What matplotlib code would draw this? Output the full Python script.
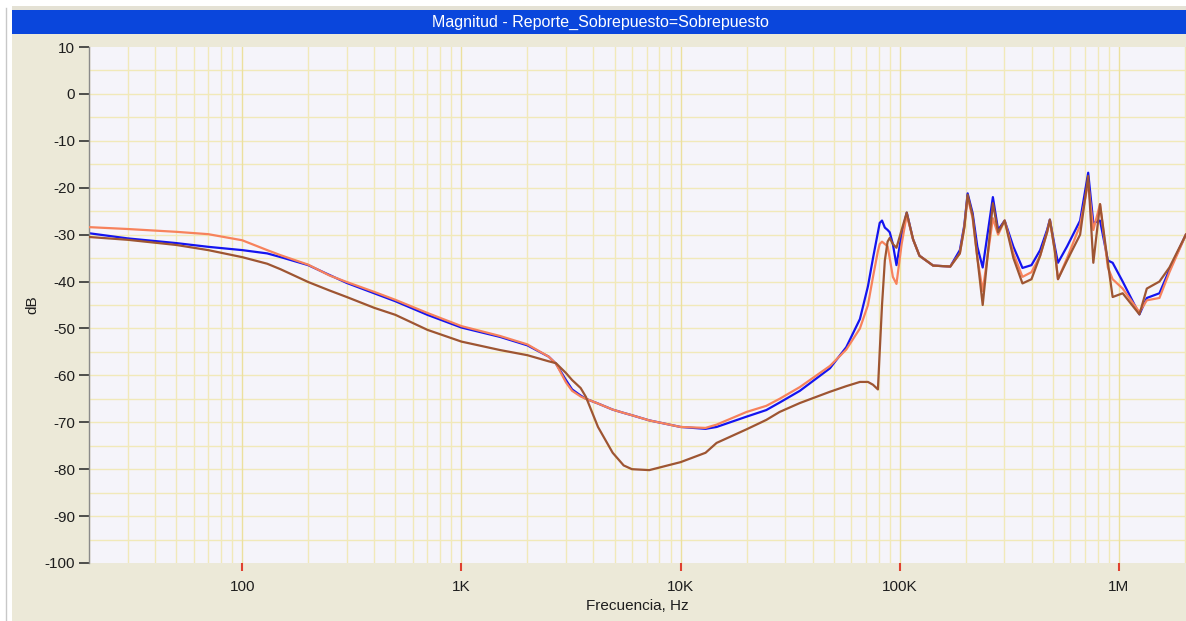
import numpy as np
import matplotlib
matplotlib.use("Agg")
import matplotlib.pyplot as plt
import matplotlib.patches as mpatches
from matplotlib.ticker import FixedLocator, FixedFormatter, NullFormatter

# ── Palette ──────────────────────────────────────────────────────────────────
WIN_BG   = "#ece9d8"
TITLE_BG = "#0a46dc"
PLOT_BG  = "#f5f4fa"
GRID     = "#f1e9b9"
GRID_MAJ = "#ece09e"
TEXT     = "#1e1e1e"
C_BLUE   = "#1414f0"
C_ORANGE = "#f7825c"
C_BROWN  = "#9e5532"

plt.rcParams["font.family"] = ["Liberation Sans", "DejaVu Sans"]
plt.rcParams["axes.unicode_minus"] = False

# ── Data: magnitude response (dB) vs frequency (Hz) ─────────────────────────
freq = [20, 30, 50, 70, 100, 130, 150, 200, 250, 300, 400, 500, 700, 1000,
        1500, 2000, 2500, 2700, 3000, 3200, 3500, 3700, 4200, 4900, 5500,
        6000, 7200, 10000, 13000, 14600, 20000, 24600, 28300, 35000, 48000,
        57000, 65800, 71600, 75500, 79500, 81000, 83000, 85500, 88000, 90000,
        93000, 96600, 102000, 107600, 115000, 123000, 142000, 170000, 188000,
        197000, 204000, 215000, 226000, 239000, 266000, 281000, 301000,
        330000, 363000, 399000, 437000, 470000, 484000, 510000, 527000,
        580000, 665000, 724000, 764000, 820000, 890000, 936000, 1040000,
        1240000, 1340000, 1530000, 1700000, 2020000]

mag_blue = [-29.7, -30.8, -31.8, -32.6, -33.3, -34.0, -34.8, -36.5, -38.6,
            -40.3, -42.5, -44.2, -47.1, -49.8, -51.8, -53.6, -56.0, -57.5,
            -61.0, -63.0, -64.3, -65.0, -66.0, -67.3, -68.0, -68.5, -69.6,
            -71.0, -71.4, -71.0, -68.8, -67.4, -65.8, -63.3, -58.5, -54.0,
            -48.0, -41.0, -35.0, -29.5, -27.5, -27.0, -28.5, -29.0, -29.5,
            -32.0, -36.5, -30.0, -25.3, -31.0, -34.5, -36.6, -36.8, -33.3,
            -28.0, -21.2, -25.4, -32.6, -37.0, -22.0, -29.0, -27.0, -32.6,
            -37.1, -36.5, -33.3, -29.0, -26.8, -32.6, -36.0, -32.5, -27.0,
            -16.8, -27.5, -27.0, -35.5, -36.0, -40.0, -47.0, -43.5, -42.5,
            -37.5, -30.0]

mag_orange = [-28.4, -28.8, -29.4, -29.9, -31.2, -33.3, -34.4, -36.4, -38.7,
              -40.1, -42.2, -43.9, -46.7, -49.5, -51.6, -53.4, -56.0, -57.5,
              -61.5, -63.3, -64.5, -65.0, -66.0, -67.3, -68.0, -68.5, -69.6,
              -71.0, -71.2, -70.5, -67.8, -66.5, -65.0, -62.5, -58.0, -54.5,
              -50.0, -45.0, -39.0, -33.5, -32.0, -31.5, -32.0, -32.5, -35.0,
              -39.0, -40.5, -32.0, -25.8, -31.0, -34.5, -36.6, -36.8, -34.0,
              -28.5, -22.0, -26.5, -35.0, -42.0, -26.5, -30.0, -27.0, -34.0,
              -39.0, -38.0, -34.5, -29.5, -27.0, -33.5, -39.5, -35.0, -28.0,
              -19.0, -29.0, -23.5, -37.0, -39.5, -41.5, -46.5, -44.0, -43.5,
              -38.0, -30.0]

mag_brown = [-30.5, -31.1, -32.2, -33.3, -34.8, -36.2, -37.4, -40.1, -41.9,
             -43.3, -45.6, -47.1, -50.3, -52.8, -54.6, -55.7, -57.0, -57.4,
             -59.5, -61.0, -62.7, -64.6, -71.0, -76.5, -79.2, -80.0, -80.2,
             -78.5, -76.5, -74.4, -71.5, -69.5, -67.8, -65.9, -63.5, -62.3,
             -61.4, -61.4, -62.0, -63.0, -55.0, -45.0, -35.5, -31.5, -30.7,
             -32.0, -32.8, -29.0, -25.3, -31.0, -34.5, -36.6, -36.8, -34.0,
             -28.5, -21.5, -26.0, -35.0, -45.0, -23.3, -29.5, -27.0, -35.0,
             -40.4, -39.5, -34.5, -29.5, -26.8, -33.5, -39.5, -35.5, -30.0,
             -17.5, -36.0, -23.5, -36.0, -43.3, -42.5, -47.0, -41.5, -40.0,
             -37.0, -30.0]

x_ticks  = [100, 1e3, 1e4, 1e5, 1e6]
x_labels = ["100", "1K", "10K", "100K", "1M"]
y_ticks  = list(range(-100, 11, 10))
y_labels = [str(v) for v in y_ticks]

# ── Window frame ─────────────────────────────────────────────────────────────
W, H = 1186, 621
fig = plt.figure(figsize=(W / 100, H / 100), dpi=100)
fig.patch.set_facecolor("white")

def rect(x0, y0, x1, y1, color, z=0):
    fig.add_artist(mpatches.Rectangle((x0 / W, 1 - y1 / H), (x1 - x0) / W,
                                      (y1 - y0) / H, transform=fig.transFigure,
                                      facecolor=color, edgecolor="none", zorder=z))

rect(12, 6, W, 34, "#e4e1d4")
rect(12, 34, W, H, WIN_BG)
rect(12, 10, W, 34, TITLE_BG, z=1)
fig.add_artist(plt.Line2D([6 / W, 6 / W], [0, 1 - 8 / H], transform=fig.transFigure,
                          color="#c8c8c8", lw=1))
fig.text((14 + W) / 2 / W, 1 - 22 / H, "Magnitud - Reporte_Sobrepuesto=Sobrepuesto",
         color="white", fontsize=11.5, ha="center", va="center", zorder=2)

# ── Plot area ────────────────────────────────────────────────────────────────
ax = fig.add_axes([89 / W, 1 - 563 / H, (W - 89) / W, 516 / H])
ax.set_facecolor(PLOT_BG)
ax.set_xscale("log")
ax.set_xlim(20, 10 ** (6 + 67 / 219))
ax.set_ylim(-100, 10)

# grid: 5 dB rows, log minor columns
for v in range(-95, 10, 5):
    ax.axhline(v, color=GRID, lw=1, zorder=0)
for dec in [10, 100, 1e3, 1e4, 1e5, 1e6]:
    for m in range(2, 10):
        ax.axvline(dec * m, color=GRID, lw=1, zorder=0)
    ax.axvline(dec * 10, color=GRID_MAJ, lw=1, zorder=0)

ax.plot(freq, mag_orange, color=C_ORANGE, lw=1.6, zorder=3)
ax.plot(freq, mag_blue, color=C_BLUE, lw=1.6, zorder=2)
ax.plot(freq, mag_brown, color=C_BROWN, lw=1.6, zorder=4)

for s in ["top", "right", "bottom"]:
    ax.spines[s].set_visible(False)
ax.spines["left"].set_color("#8a8a8a")
ax.spines["left"].set_linewidth(1)

ax.yaxis.set_major_locator(FixedLocator(y_ticks))
ax.yaxis.set_major_formatter(FixedFormatter(y_labels))
ax.tick_params(axis="y", direction="out", length=7, width=1.2, color="#333333",
               labelsize=11, labelcolor=TEXT, pad=3)

ax.xaxis.set_major_locator(FixedLocator(x_ticks))
ax.xaxis.set_major_formatter(FixedFormatter(x_labels))
ax.xaxis.set_minor_formatter(NullFormatter())
ax.tick_params(axis="x", which="major", direction="out", length=6, width=1.5,
               color="#e04030", labelsize=11, labelcolor=TEXT, pad=6)
ax.tick_params(axis="x", which="minor", length=0)

ax.set_xlabel("Frecuencia, Hz", fontsize=11, color=TEXT, labelpad=4)
ax.set_ylabel("dB", fontsize=11, color=TEXT, labelpad=4)

plt.savefig("out.png", dpi=100, facecolor=fig.get_facecolor())
